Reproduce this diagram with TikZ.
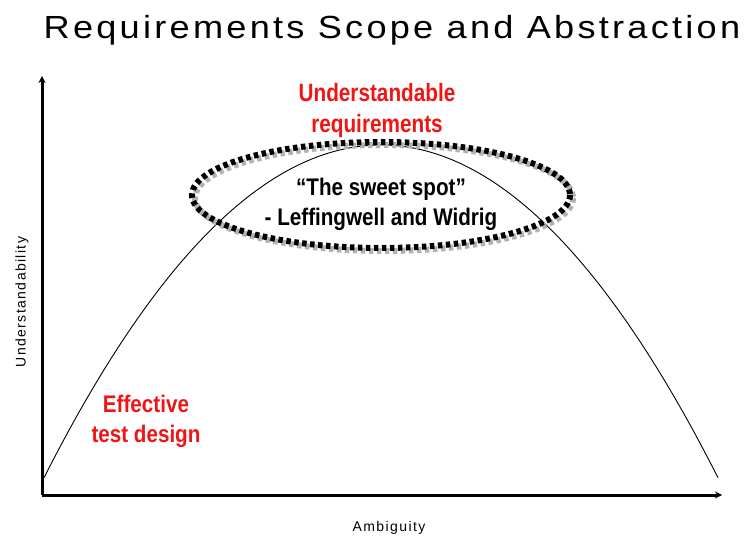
\documentclass[tikz,border=0pt]{standalone}
\usepackage{fontspec}
\setmainfont{Liberation Sans}
\newfontfamily\titlefont[LetterSpace=9]{Liberation Sans}
\newfontfamily\axisfont[LetterSpace=10]{Liberation Sans}
\usetikzlibrary{arrows.meta}
\definecolor{lblred}{RGB}{240,20,20}
\tikzset{
  axis/.style={line width=3pt,-{Stealth[length=7pt,width=7pt]}},
  curve/.style={line width=0.9pt},
  dots/.style={line width=6pt,dash pattern=on 4.5pt off 3.5pt},
  redlbl/.style={text=lblred,font=\fontsize{25}{31}\selectfont\bfseries,align=center},
  blklbl/.style={text=black,font=\fontsize{24}{30}\selectfont\bfseries,align=center},
  smalllbl/.style={font=\axisfont\fontsize{14}{16}\selectfont}
}
\newcommand{\narrowr}[1]{\scalebox{0.83}[1]{#1}}
\newcommand{\narrowb}[1]{\scalebox{0.86}[1]{#1}}
\begin{document}
\begin{tikzpicture}[x=1pt,y=-1pt]
\useasboundingbox (0,0) rectangle (747,537);
\node[font=\titlefont\fontsize{32}{34}\selectfont] (title) at (392,30) {\scalebox{1.13}[1]{Requirements Scope and Abstraction}};
\coordinate (o) at (42,495);
\coordinate (ytop) at (42,76);
\coordinate (xend) at (722,495);
\draw[axis] (o) -- (ytop);
\draw[axis] (o) -- (xend);
\draw[curve] plot[domain=44:718,samples=120,smooth] (\x,{145+0.00293*(\x-381)*(\x-381)});
% ellipse with shadow
\draw[dots,gray!60] (384,198) ellipse (189 and 53);
\draw[dots,black] (381,195) ellipse (189 and 53);
\node[redlbl] (ureq) at (377,111) {\narrowr{Understandable}\\\narrowr{requirements}};
\node[blklbl] (sweet) at (381,204) {\narrowb{“The sweet spot”}\\\narrowb{- Leffingwell and Widrig}};
\node[redlbl,font=\fontsize{24}{30}\selectfont\bfseries] (etd) at (146,421) {\narrowb{Effective}\\\narrowb{test design}};
\node[smalllbl,rotate=90] (ylab) at (22,302) {Understandability};
\node[smalllbl] (xlab) at (389,528) {Ambiguity};
\end{tikzpicture}
\end{document}
